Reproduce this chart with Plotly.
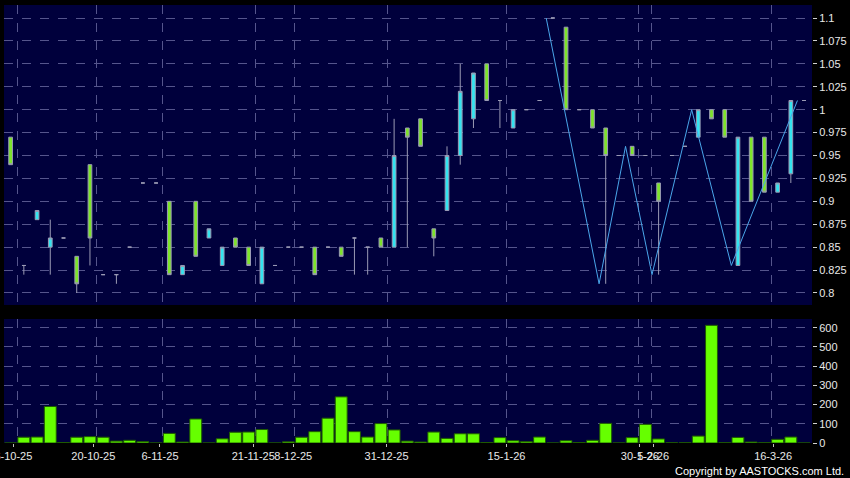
import plotly.graph_objects as go

# ---- data ----
opens  = [0.97, 0.83, 0.88, 0.85, 0.86, 0.84, 0.94, 0.82, 0.82, 0.85,
          0.92, 0.92, 0.90, 0.82, 0.90, 0.86, 0.83, 0.86, 0.85, 0.81,
          0.83, 0.85, 0.85, 0.85, 0.85, 0.85, 0.86, 0.85, 0.86, 0.85,
          0.98, 0.99, 0.87, 0.89, 0.95, 0.99, 1.05, 1.01, 0.98, 1.00,
          1.01, 1.10, 1.09, 1.00, 1.00, 0.98, 0.95, 0.96, 0.95, 0.92,
          0.95, 0.96, 0.97, 1.00, 1.00, 0.83, 0.97, 0.97, 0.91, 0.93,
          1.01]
highs  = [0.97, 0.83, 0.89, 0.88, 0.86, 0.84, 0.94, 0.82, 0.82, 0.85,
          0.92, 0.92, 0.90, 0.83, 0.90, 0.87, 0.85, 0.86, 0.85, 0.85,
          0.83, 0.85, 0.85, 0.85, 0.85, 0.85, 0.86, 0.85, 0.86, 0.99,
          0.98, 0.99, 0.87, 0.96, 1.05, 1.04, 1.05, 1.01, 1.00, 1.00,
          1.01, 1.10, 1.09, 1.00, 1.00, 0.98, 0.95, 0.96, 0.95, 0.92,
          0.95, 0.96, 1.00, 1.00, 1.00, 0.97, 0.97, 0.97, 0.92, 1.01,
          1.01]
lows   = [0.94, 0.82, 0.88, 0.82, 0.86, 0.80, 0.83, 0.82, 0.81, 0.85,
          0.92, 0.92, 0.82, 0.82, 0.84, 0.86, 0.83, 0.85, 0.83, 0.81,
          0.83, 0.85, 0.85, 0.82, 0.85, 0.84, 0.82, 0.82, 0.85, 0.85,
          0.85, 0.96, 0.84, 0.89, 0.94, 0.98, 1.01, 0.98, 0.98, 1.00,
          1.01, 1.10, 1.00, 1.00, 0.98, 0.81, 0.95, 0.95, 0.95, 0.82,
          0.95, 0.96, 0.97, 0.99, 0.97, 0.83, 0.90, 0.91, 0.91, 0.92,
          1.01]
closes = [0.94, 0.83, 0.89, 0.86, 0.86, 0.81, 0.86, 0.82, 0.82, 0.85,
          0.92, 0.92, 0.82, 0.83, 0.84, 0.87, 0.85, 0.85, 0.83, 0.85,
          0.83, 0.85, 0.85, 0.82, 0.85, 0.84, 0.86, 0.85, 0.85, 0.95,
          0.97, 0.96, 0.86, 0.95, 1.02, 1.04, 1.01, 1.01, 1.00, 1.00,
          1.01, 1.10, 1.00, 1.00, 0.98, 0.95, 0.95, 0.95, 0.95, 0.90,
          0.95, 0.96, 1.00, 0.99, 0.97, 0.97, 0.90, 0.91, 0.92, 1.01,
          1.01]
volumes = [0, 30, 31, 190, 2, 30, 33, 30, 10, 14,
           7, 0, 50, 5, 125, 0, 22, 56, 57, 70,
           0, 6, 30, 59, 129, 240, 59, 31, 101, 68,
           10, 5, 57, 24, 48, 48, 2, 28, 12, 7,
           31, 0, 12, 2, 14, 102, 0, 28, 97, 21,
           1, 1, 36, 612, 1, 29, 5, 1, 19, 31,
           0]

# zigzag line: candle index of each turning point and its price
zz_candles = [41, 45, 47, 49, 52, 55, 60]
zz_values = [1.10, 0.81, 0.96, 0.82, 1.00, 0.83, 1.01]

# date ticks: candle index where each label falls
tick_candles = [1, 7, 12, 19, 22, 29, 38, 48, 49, 58]
tick_labels = ["6-10-25", "20-10-25", "6-11-25", "21-11-25", "8-12-25",
               "31-12-25", "15-1-26", "30-1-26", "5-2-26", "16-3-26"]

price_ticks = [0.8, 0.825, 0.85, 0.875, 0.9, 0.925, 0.95, 0.975,
               1.0, 1.025, 1.05, 1.075, 1.1]
price_labels = ["0.8", "0.825", "0.85", "0.875", "0.9", "0.925", "0.95",
                "0.975", "1", "1.025", "1.05", "1.075", "1.1"]
vol_ticks = [0, 100, 200, 300, 400, 500, 600]
vol_labels = ["0", "100", "200", "300", "400", "500", "600"]

# ---- figure ----
idx = list(range(len(opens)))
tickpos = [c - 0.5 for c in tick_candles]
zz_x = [c - 0.5 for c in zz_candles]

NAVY = "#00003c"
GRID = "#55558c"
FONT = dict(family="Liberation Sans, Arial, sans-serif", size=11, color="#e8e8e8")
XRANGE = [-0.5, 60.6]
# the date-label scale of the original sits slightly tighter than its grid
LABEL_RANGE = [-0.2, 60.42]

fig = go.Figure()
fig.add_trace(go.Candlestick(
    x=idx, open=opens, high=highs, low=lows, close=closes,
    increasing=dict(fillcolor="#33e4f0", line=dict(color="#9a9ab4", width=1)),
    decreasing=dict(fillcolor="#7ee42a", line=dict(color="#9a9ab4", width=1)),
    whiskerwidth=0, xaxis="x", yaxis="y", hoverinfo="skip", showlegend=False,
))
fig.add_trace(go.Scatter(
    x=zz_x, y=zz_values, mode="lines",
    line=dict(color="#4aa6ea", width=1), xaxis="x", yaxis="y",
    hoverinfo="skip", showlegend=False,
))
fig.add_trace(go.Bar(
    x=idx, y=volumes, width=0.9,
    marker=dict(color="#66ff00", line=dict(color="#1f5a00", width=1)),
    xaxis="x2", yaxis="y2", hoverinfo="skip", showlegend=False,
))
# carrier for the date-label axis
fig.add_trace(go.Scatter(x=[], y=[], xaxis="x3", yaxis="y2",
                         hoverinfo="skip", showlegend=False))

xgrid = dict(
    range=XRANGE, tickmode="array", tickvals=tickpos,
    showgrid=True, gridcolor=GRID, griddash="dash", gridwidth=1,
    zeroline=False, showline=False, fixedrange=True,
    showticklabels=False, ticks="", automargin=False,
)
ycommon = dict(
    side="right", showgrid=True, gridcolor=GRID, griddash="dash", gridwidth=1,
    zeroline=False, showline=False, ticks="outside", ticklen=4,
    tickcolor="#d0d0d0", tickfont=FONT, tickmode="array", fixedrange=True,
    ticklabeloverflow="allow", automargin=False,
)

fig.update_layout(
    width=850, height=478,
    paper_bgcolor="#000000", plot_bgcolor=NAVY,
    margin=dict(l=4, r=38, t=5, b=35, autoexpand=False),
    boxgap=0.6,
    showlegend=False,
    xaxis=dict(**xgrid, anchor="y", rangeslider=dict(visible=False)),
    xaxis2=dict(**xgrid, anchor="y2"),
    xaxis3=dict(
        range=LABEL_RANGE, overlaying="x2", anchor="y2", side="bottom",
        tickmode="array", tickvals=tickpos, ticktext=tick_labels,
        showgrid=False, zeroline=False, showline=False, fixedrange=True,
        ticks="outside", ticklen=3, tickcolor="#c0c0c0", tickangle=0,
        tickfont=FONT, ticklabeloverflow="allow", automargin=False,
    ),
    yaxis=dict(**ycommon, domain=[0.3151, 1.0], anchor="x",
               range=[0.7869, 1.1142], tickvals=price_ticks,
               ticktext=price_labels),
    yaxis2=dict(**ycommon, domain=[0.0, 0.2831], anchor="x2",
                range=[0, 645], tickvals=vol_ticks, ticktext=vol_labels),
    annotations=[dict(
        text="Copyright by AASTOCKS.com Ltd.", xref="paper", yref="paper",
        x=1.0, y=0, xanchor="right", yanchor="top", yshift=-20, xshift=34,
        showarrow=False,
        font=dict(family="Liberation Sans, Arial, sans-serif", size=11,
                  color="#ffffff"),
    )],
)

fig.write_html(
    "out.html",
    config={"displayModeBar": False},
    post_script="document.body.style.margin='0';document.body.style.overflow='hidden';",
)
